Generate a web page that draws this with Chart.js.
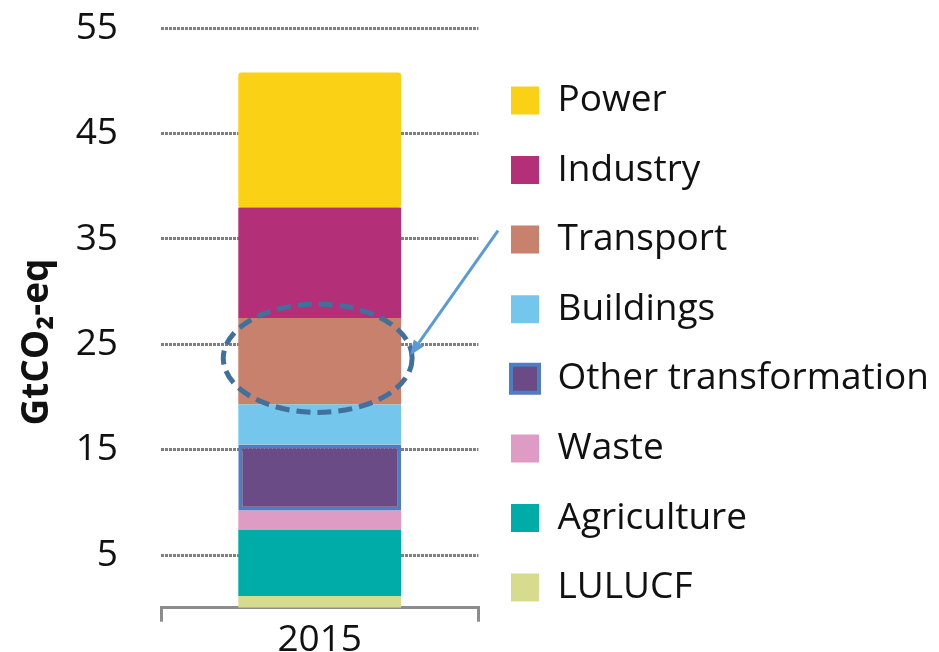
<!DOCTYPE html>
<html>
<head>
<meta charset="utf-8">
<script src="https://cdn.jsdelivr.net/npm/chart.js@4.4.1/dist/chart.umd.min.js"></script>
<style>
  html, body { margin: 0; padding: 0; background: #fff; }
  #wrap { width: 939px; height: 652px; }
</style>
</head>
<body>
<div id="wrap"><canvas id="mychart"></canvas></div>
<script>
const years = ['2015'];
// stacked bottom -> top
const sectors = ['LULUCF', 'Agriculture', 'Waste', 'Other transformation', 'Buildings', 'Transport', 'Industry', 'Power'];
const emissions2015 = [1.1, 6.3, 1.8, 6.3, 3.8, 8.2, 10.5, 12.8];
const yTicks = [5, 15, 25, 35, 45, 55];
const sectorColors = ['#D7DB8D', '#00ACA8', '#DE9BC3', '#6A4B85', '#74C6EC', '#C7816D', '#B32F78', '#FBD115'];

const boxed = 'Other transformation';
const circled = 'Transport';

Chart.defaults.font.family = "'Open Sans', sans-serif";

const getchart = document.querySelector('#mychart');

const datasets = sectors.map((name, i) => ({
  label: name,
  data: [emissions2015[i]],
  backgroundColor: sectorColors[i],
  borderColor: name === boxed ? '#4F7DC1' : sectorColors[i],
  borderWidth: name === boxed ? 4 : 0,
  borderSkipped: false,
  borderRadius: 3,
  barPercentage: 0.513,
  categoryPercentage: 1
}));

// dashed ellipse round Transport + arrow from its legend entry
const callout = {
  id: 'callout',
  afterDraw(chart) {
    const bar = chart.getDatasetMeta(sectors.indexOf(circled)).data[0];
    if (!bar) return;
    const {x, y, base, width} = bar.getProps(['x', 'y', 'base', 'width'], true);
    const cx = x - 2, cy = (y + base) / 2 - 3;
    const rx = width / 2 + 13, ry = (base - y) / 2 + 11;
    const ctx = chart.ctx;
    ctx.save();
    ctx.setLineDash([14, 7]);
    ctx.lineWidth = 5;
    ctx.strokeStyle = '#41709C';
    ctx.beginPath();
    ctx.ellipse(cx, cy, rx, ry, 0, 0, Math.PI * 2);
    ctx.stroke();

    const lg = chart.legend;
    const li = lg.legendItems.findIndex(it => it.text === circled);
    const hb = lg.legendHitBoxes[li];
    const sx = hb.left - 13, sy = hb.top + hb.height / 2 - 9;
    const ex = cx + rx - 2, ey = cy - 3;
    const ang = Math.atan2(ey - sy, ex - sx);
    const head = 15, half = 6;
    const bx = ex - head * Math.cos(ang), by = ey - head * Math.sin(ang);
    ctx.setLineDash([]);
    ctx.strokeStyle = '#5B9BD5';
    ctx.fillStyle = '#5B9BD5';
    ctx.lineWidth = 3;
    ctx.beginPath();
    ctx.moveTo(sx, sy);
    ctx.lineTo(bx, by);
    ctx.stroke();
    ctx.beginPath();
    ctx.moveTo(ex, ey);
    ctx.lineTo(bx + half * Math.sin(ang), by - half * Math.cos(ang));
    ctx.lineTo(bx - half * Math.sin(ang), by + half * Math.cos(ang));
    ctx.closePath();
    ctx.fill();
    ctx.restore();
  }
};

const config = {
  type: 'bar',
  data: { labels: years, datasets: datasets },
  options: {
    responsive: true,
    maintainAspectRatio: false,
    animation: false,
    layout: { padding: { top: 28.3, left: 0, right: 0, bottom: 0 } },
    plugins: {
      tooltip: { enabled: false },
      legend: {
        position: 'right',
        align: 'start',
        reverse: true,
        maxWidth: 480,
        title: { display: true, text: ' ', font: { size: 10 }, padding: { top: 9, bottom: 0 } },
        labels: {
          boxWidth: 28,
          boxHeight: 28,
          padding: 32.6,
          color: '#111',
          font: { size: 37 }
        }
      }
    },
    scales: {
      x: {
        stacked: true,
        offset: true,
        afterFit: (axis) => { axis.height = 44.3; },
        grid: { display: true, offset: true, drawOnChartArea: false, drawTicks: true, tickLength: 14, lineWidth: 3, color: '#8C8C8C' },
        border: { display: true, color: '#8C8C8C', width: 3 },
        ticks: { color: '#111', font: { size: 37 }, padding: -3 }
      },
      y: {
        stacked: true,
        min: 0,
        max: 55,
        afterBuildTicks: (axis) => { axis.ticks = yTicks.map(v => ({ value: v })); },
        afterFit: (axis) => { axis.width = 161; axis.paddingTop = 0; axis.paddingBottom = 0; },
        grid: { drawTicks: false, lineWidth: 3, color: '#7F7F7F' },
        border: { display: false, dash: [3, 1] },
        ticks: { color: '#111', font: { size: 37 }, padding: 43 },
        title: {
          display: true,
          text: 'GtCO₂-eq     ',
          color: '#111',
          font: { size: 37, weight: 'bold' },
          padding: { top: 15, bottom: 10 }
        }
      }
    }
  },
  plugins: [callout]
};

let chart = new Chart(getchart, config);
</script>
</body>
</html>
